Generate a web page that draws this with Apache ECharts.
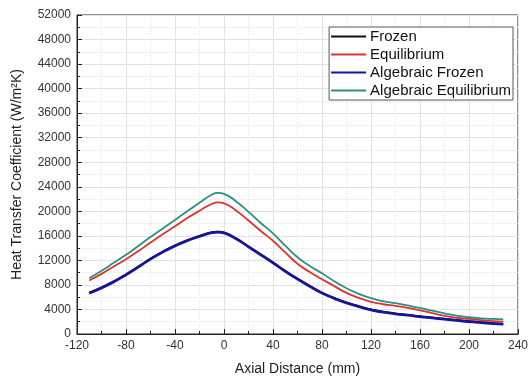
<!DOCTYPE html>
<html><head><meta charset="utf-8">
<script src="https://cdn.jsdelivr.net/npm/echarts@6/dist/echarts.min.js"></script>
<style>html,body{margin:0;padding:0;background:#fff}#c{width:531px;height:381px}</style>
</head><body><div id="c"></div>
<script>
const xs = [-110, -100, -90, -80, -70, -60, -50, -40, -30, -20, -10, -5, 0, 10, 20, 30, 40, 50, 60, 70, 80, 90, 100, 110, 120, 130, 140, 150, 160, 170, 180, 190, 200, 210, 220, 228];
const frozen = [6750, 7600, 8600, 9750, 11000, 12300, 13450, 14450, 15300, 16000, 16600, 16700, 16550, 15600, 14300, 13000, 11700, 10300, 9050, 7850, 6750, 5900, 5150, 4550, 4000, 3650, 3370, 3150, 2900, 2700, 2500, 2300, 2110, 1950, 1780, 1690];
const equilibrium = [8720, 9800, 11000, 12200, 13500, 14900, 16250, 17550, 18900, 20100, 21200, 21450, 21300, 20100, 18500, 16800, 15200, 13300, 11450, 10100, 8940, 7800, 6700, 5900, 5250, 4850, 4580, 4250, 3850, 3400, 2950, 2650, 2450, 2250, 2100, 2010];
const algFrozen = [6650, 7500, 8500, 9650, 10900, 12200, 13350, 14350, 15200, 15900, 16500, 16600, 16450, 15500, 14200, 12900, 11600, 10200, 8950, 7750, 6650, 5800, 5050, 4450, 3900, 3550, 3270, 3050, 2800, 2600, 2400, 2200, 2010, 1850, 1680, 1590];
const algEquilibrium = [9100, 10300, 11600, 12900, 14350, 15800, 17200, 18600, 20000, 21400, 22700, 23000, 22850, 21600, 19900, 18100, 16400, 14400, 12500, 11100, 9900, 8600, 7450, 6550, 5840, 5350, 5020, 4650, 4250, 3800, 3380, 3000, 2730, 2550, 2450, 2400];
const xTicks = [-120, -80, -40, 0, 40, 80, 120, 160, 200, 240];
const yTicks = [0, 4000, 8000, 12000, 16000, 20000, 24000, 28000, 32000, 36000, 40000, 44000, 48000, 52000];
const names = ['Frozen', 'Equilibrium', 'Algebraic Frozen', 'Algebraic Equilibrium'];
const colors = ['#111111', '#e0322c', '#14149c', '#2a8f84'];

const chart = echarts.init(document.getElementById('c'), null, {renderer: 'canvas'});
const pair = arr => xs.map((x, i) => [x, arr[i]]);
const allData = [frozen, equilibrium, algFrozen, algEquilibrium];
const font = 'Liberation Sans, Arial, sans-serif';
const axisCommon = {
  axisLine: {show: true, onZero: false, lineStyle: {color: '#222'}},
  axisTick: {show: true, inside: true, length: 5, lineStyle: {color: '#222'}},
  minorTick: {show: true, splitNumber: 2, length: 3, lineStyle: {color: '#222'}},
  axisLabel: {fontFamily: font, fontSize: 12, color: '#333', margin: 6, formatter: v => String(v)},
  splitLine: {show: true, lineStyle: {color: '#e2e2e2', width: 1}},
  minorSplitLine: {show: true, lineStyle: {color: '#e6e6e6', type: 'dotted'}}
};
chart.setOption({
  animation: false,
  backgroundColor: '#fff',
  grid: {left: 77, right: 11, top: 15, bottom: 47, show: true, borderColor: '#222', borderWidth: 1, backgroundColor: 'transparent'},
  legend: {
    right: 18, top: 27, orient: 'vertical', itemGap: 3, itemWidth: 35, itemHeight: 2,
    icon: 'rect', backgroundColor: '#fff', borderColor: '#555', borderWidth: 1, padding: [2, 2, 2, 2],
    textStyle: {fontFamily: font, fontSize: 15, color: '#111', padding: [0, 0, 0, -1]},
    data: names
  },
  xAxis: Object.assign({
    type: 'value', min: xTicks[0], max: xTicks[xTicks.length - 1], interval: 40,
    name: 'Axial Distance (mm)', nameLocation: 'middle', nameGap: 28,
    nameTextStyle: {fontFamily: font, fontSize: 14, color: '#222'}
  }, axisCommon),
  yAxis: Object.assign({
    type: 'value', min: yTicks[0], max: yTicks[yTicks.length - 1], interval: 4000,
    name: 'Heat Transfer Coefficient (W/m²K)', nameLocation: 'middle', nameGap: 53,
    nameTextStyle: {fontFamily: font, fontSize: 14, color: '#222'}
  }, axisCommon),
  series: names.map((n, i) => ({
    name: n, type: 'line', data: pair(allData[i]), smooth: 0.5, showSymbol: false,
    lineStyle: {color: colors[i], width: i === 2 ? 2.6 : 1.8}, itemStyle: {color: colors[i]},
    z: i === 2 ? 3 : 2
  }))
});
</script></body></html>
